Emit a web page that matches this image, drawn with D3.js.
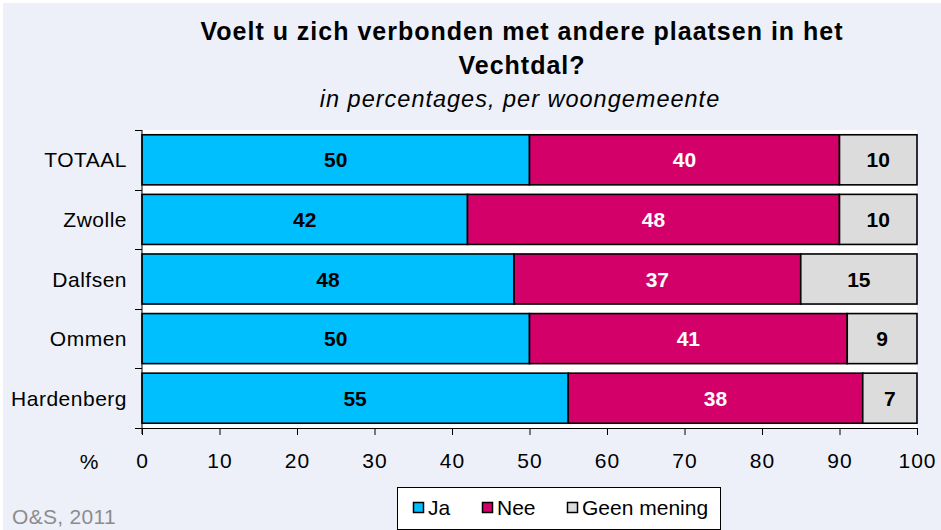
<!DOCTYPE html>
<html><head><meta charset="utf-8">
<script src="https://cdn.jsdelivr.net/npm/d3@7"></script>
<style>
html,body{margin:0;padding:0;background:#fff;}
svg{display:block;font-family:"Liberation Sans",Arial,sans-serif;}
</style></head>
<body>
<svg id="chart" width="941" height="530"></svg>
<script>
const categories = ["TOTAAL", "Zwolle", "Dalfsen", "Ommen", "Hardenberg"];
const seriesNames = ["Ja", "Nee", "Geen mening"];
const ja = [50, 42, 48, 50, 55];
const nee = [40, 48, 37, 41, 38];
const geen = [10, 10, 15, 9, 7];
const xTicks = [0, 10, 20, 30, 40, 50, 60, 70, 80, 90, 100];
const colors = ["#00BFFF", "#D20068", "#DCDCDC"];
const labelColors = ["#000", "#fff", "#000"];

(function () {
const svg = d3.select("#chart");
svg.append("rect").attr("x", 3).attr("y", 3).attr("width", 938).attr("height", 527).attr("fill", "#EDF0F8");

const pL = 142, pR = 917, pT = 130, pB = 428;
const x = d3.scaleLinear().domain([0, 100]).range([pL, pR]);
const y = d3.scaleBand().domain(categories).range([pT, pB]).paddingInner(0.16).paddingOuter(0.08);

svg.append("rect").attr("x", pL).attr("y", pT).attr("width", pR - pL).attr("height", pB - pT).attr("fill", "#fff");

svg.append("text").attr("x", 522).attr("y", 40).attr("text-anchor", "middle")
  .attr("font-size", 25).attr("font-weight", "bold").attr("letter-spacing", 1).attr("fill", "#000")
  .text("Voelt u zich verbonden met andere plaatsen in het");
svg.append("text").attr("x", 522).attr("y", 74).attr("text-anchor", "middle")
  .attr("font-size", 25).attr("font-weight", "bold").attr("letter-spacing", 1).attr("fill", "#000")
  .text("Vechtdal?");
svg.append("text").attr("x", 520).attr("y", 107).attr("text-anchor", "middle")
  .attr("font-size", 23.5).attr("font-style", "italic").attr("letter-spacing", 1).attr("fill", "#000")
  .text("in percentages, per woongemeente");

const rows = categories.map((c, i) => ({cat: c, vals: [ja[i], nee[i], geen[i]]}));
const stack = d3.stack().keys([0, 1, 2]).value((d, k) => d.vals[k]);
const series = stack(rows);

series.forEach((s, k) => {
  const g = svg.append("g");
  g.selectAll("rect").data(s).join("rect")
    .attr("x", d => x(d[0])).attr("y", d => y(d.data.cat))
    .attr("width", d => x(d[1]) - x(d[0])).attr("height", y.bandwidth())
    .attr("fill", colors[k]).attr("stroke", "#000").attr("stroke-width", 1.6);
  g.selectAll("text").data(s).join("text")
    .attr("x", d => (x(d[0]) + x(d[1])) / 2)
    .attr("y", d => y(d.data.cat) + y.bandwidth() / 2 + 7.5)
    .attr("text-anchor", "middle").attr("font-size", 21).attr("font-weight", "bold")
    .attr("fill", labelColors[k]).text(d => d[1] - d[0]);
});

svg.append("line").attr("x1", pL).attr("x2", pL).attr("y1", pT).attr("y2", pB + 6)
  .attr("stroke", "#000").attr("stroke-width", 1);
for (let i = 0; i <= categories.length; i++) {
  const yy = Math.round(pT + i * (pB - pT) / categories.length) + 0.5;
  svg.append("line").attr("x1", pL - 7).attr("x2", pL).attr("y1", yy).attr("y2", yy)
    .attr("stroke", "#000").attr("stroke-width", 1);
}
svg.append("g").selectAll("text").data(categories).join("text")
  .attr("x", 127).attr("y", d => y(d) + y.bandwidth() / 2 + 7.5)
  .attr("text-anchor", "end").attr("font-size", 21).attr("letter-spacing", 0.5).attr("fill", "#000")
  .text(d => d);

const xa = svg.append("g").attr("transform", `translate(0,${pB})`)
  .call(d3.axisBottom(x).tickValues(xTicks).tickSize(7).tickSizeOuter(0).tickPadding(18));
xa.select(".domain").attr("stroke", "#000");
xa.selectAll(".tick line").attr("stroke", "#000");
xa.selectAll(".tick text").attr("font-size", 21).attr("letter-spacing", 1).attr("font-family", "Liberation Sans, Arial, sans-serif").attr("fill", "#000");
svg.append("text").attr("x", 89).attr("y", 469).attr("text-anchor", "middle").attr("font-size", 21).attr("fill", "#000").text("%");

svg.append("text").attr("x", 12).attr("y", 524).attr("font-size", 21).attr("letter-spacing", 0.3).attr("fill", "#8c8c8c").text("O&S, 2011");

const lg = svg.append("g");
lg.append("rect").attr("x", 397.5).attr("y", 487.5).attr("width", 323).attr("height", 42)
  .attr("fill", "#fff").attr("stroke", "#000").attr("stroke-width", 1);
const legX = [413, 482, 567];
seriesNames.forEach((n, k) => {
  lg.append("rect").attr("x", legX[k] + 0.5).attr("y", 502.5).attr("width", 10).attr("height", 10)
    .attr("fill", colors[k]).attr("stroke", "#000").attr("stroke-width", 1.5);
  lg.append("text").attr("x", legX[k] + 15).attr("y", 515).attr("font-size", 21).attr("fill", "#000").text(n);
});
})();
</script>
</body></html>
